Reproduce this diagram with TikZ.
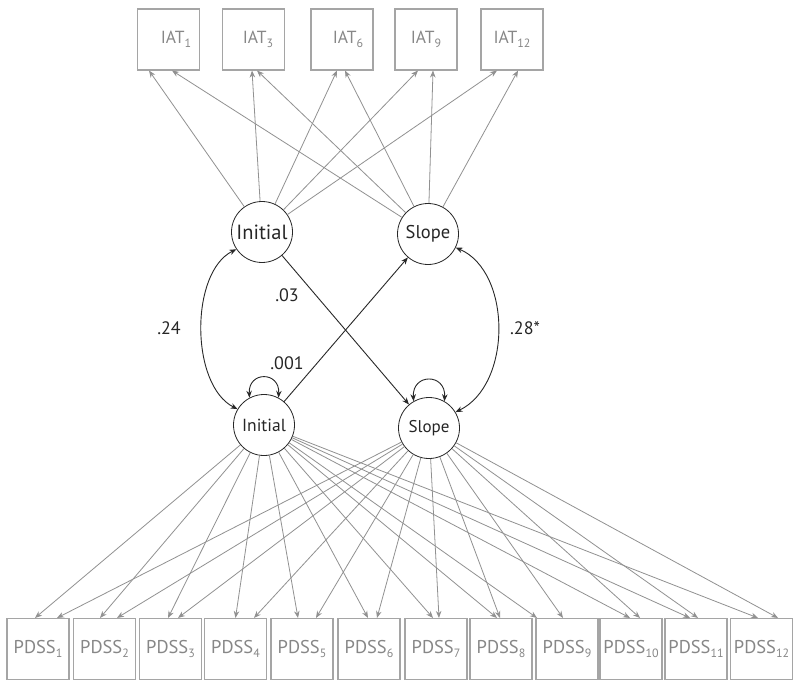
\documentclass[tikz,border=0pt]{standalone}
\usepackage{fontspec}
\setmainfont{PT Sans}
\usetikzlibrary{arrows.meta}
\definecolor{boxgray}{RGB}{165,165,165}
\definecolor{linegray}{RGB}{145,145,145}
\definecolor{txtgray}{RGB}{135,135,135}
\definecolor{darkline}{RGB}{40,40,40}
\newcommand{\sbs}[1]{\raisebox{-0.4ex}{\fontsize{12}{12}\selectfont #1}}
\begin{document}
\begin{tikzpicture}[x=1pt,y=-1pt,
  box/.style={draw=boxgray, line width=1.1pt, minimum width=62pt, minimum height=61pt, inner sep=0pt, text=txtgray, font=\fontsize{18.5}{18.5}\selectfont},
  iatbox/.style={box, font=\fontsize{17.5}{17.5}\selectfont},
  latent/.style={circle, draw=darkline, line width=0.8pt, minimum size=61pt, inner sep=0pt, text=black!85},
  ind/.style={draw=linegray, line width=0.8pt, -{Stealth[length=7pt,width=5.5pt]}},
  struct/.style={draw=darkline, line width=0.9pt, -{Stealth[length=7pt,width=5.5pt]}},
  dstruct/.style={draw=darkline, line width=0.9pt, {Stealth[length=7pt,width=5.5pt]}-{Stealth[length=7pt,width=5.5pt]}},
  lab/.style={text=black!85, font=\fontsize{18}{18}\selectfont, inner sep=0pt}]
\useasboundingbox (0,0) rectangle (800,687);
\fill[white] (0,0) rectangle (800,687);

% IAT boxes
\node[iatbox] (iat1) at (168.5,39.5) {\hspace*{15pt}IAT\sbs{1}};
\node[iatbox] (iat3) at (253.5,39.5) {\hspace*{9pt}IAT\sbs{3}};
\node[iatbox] (iat6) at (342,39.5) {\hspace*{12pt}IAT\sbs{6}};
\node[iatbox] (iat9) at (426,39.5) {IAT\sbs{9}};
\node[iatbox] (iat12) at (512,39.5) {IAT\sbs{12}};

% PDSS boxes
\foreach \k/\x in {1/38,2/104.5,3/170.5,4/235.5,5/302,6/369,7/436,8/501,9/567,10/631,11/696,12/761.5}{
  \node[box] (p\k) at (\x,649) {PDSS\sbs{\k}};
}

% latent factors
\node[latent, font=\fontsize{20.5}{20.5}\selectfont] (i1) at (262,232) {Initial};
\node[latent, font=\fontsize{18.5}{18.5}\selectfont] (s1) at (428,234) {Slope};
\node[latent, font=\fontsize{17.5}{17.5}\selectfont] (i2) at (264,425) {Initial};
\node[latent, font=\fontsize{17}{17}\selectfont] (s2) at (429,428) {Slope};

% IAT loadings
\foreach \n/\a/\b in {iat1/-19.5/3.5, iat3/-1.5/3.5, iat6/-5/3, iat9/-8/7, iat12/-15/6}{
  \draw[ind] (i1) -- ([xshift=\a pt]\n.south);
  \draw[ind] (s1) -- ([xshift=\b pt]\n.south);
}

% PDSS loadings
\foreach \k/\a/\b in {1/-3/19, 2/-4.5/12.5, 3/-2.5/7.5, 4/0/18.5, 5/-4/14, 6/-1/8, 7/-3/3, 8/-4/-1, 9/-30/-4, 10/-1/9, 11/-6/2, 12/-3.5/16.5}{
  \draw[ind] (i2) -- ([xshift=\a pt]p\k.north);
  \draw[ind] (s2) -- ([xshift=\b pt]p\k.north);
}

% structural paths
\draw[struct] (i1) -- (s2);
\draw[struct] (i2) -- (s1);
\draw[dstruct] (i1.214) .. controls (190,272) and (190,385) .. (i2.149);
\draw[dstruct] (s1.334) .. controls (512,272) and (512,385) .. (s2.31);
\draw[dstruct] (i2.118) .. controls (248,371) and (280,371) .. (i2.62);
\draw[dstruct] (s2.120) .. controls (412,373) and (446,373) .. (s2.60);

% labels
\node[lab] (l24) at (169,328) {.24};
\node[lab] (l28) at (525,328) {.28*};
\node[lab] (l03) at (287,295) {.03};
\node[lab] (l001) at (287,363) {.001};
\end{tikzpicture}
\end{document}
